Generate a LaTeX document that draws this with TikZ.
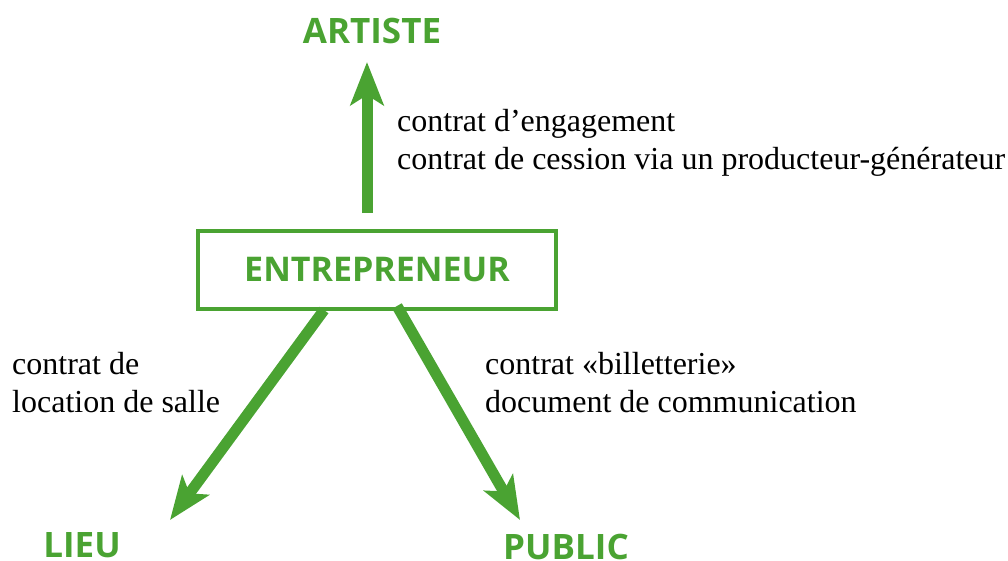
\documentclass[tikz,border=0pt]{standalone}
\usepackage{fontspec}
\setmainfont{Liberation Serif}
\newfontfamily\labelfont{Open Sans}
\usetikzlibrary{arrows.meta, positioning, calc}
\definecolor{leafgreen}{RGB}{74,163,50}

\begin{document}
\begin{tikzpicture}[x=1pt, y=-1pt, >={Stealth[length=43pt, width=33pt, inset=10pt]},
  party/.style={text=leafgreen, inner sep=0pt, font=\labelfont\bfseries\fontsize{35}{40}\selectfont},
  deal/.style={inner sep=0pt, align=left, anchor=base west, font=\fontsize{32}{38}\selectfont},
  flow/.style={->, draw=leafgreen, line width=11pt}]
\useasboundingbox (0,0) rectangle (1008,560);

\node [party, draw=leafgreen, line width=4pt, minimum width=358pt, minimum height=78pt, font=\labelfont\bfseries\fontsize{34}{40}\selectfont] (box) at (377,270) {ENTREPRENEUR};
\node [party, anchor=base] (artiste) at (372,43) {ARTISTE};
\node [party, anchor=base] (lieu) at (82,557) {LIEU};
\node [party, anchor=base] (public) at (566,559) {PUBLIC};

\coordinate (artistetip) at (367,62);
\coordinate (lieutip) at (170,520);
\coordinate (publictip) at (520,520);

\draw[flow] ([xshift=-10pt, yshift=16pt]box.north) -- (artistetip);
\draw[flow] ([xshift=-53pt, yshift=1pt]box.south) -- (lieutip);
\draw[flow] ([xshift=20pt, yshift=5pt]box.south) -- (publictip);

\node [deal] (engage) at (397,169) {contrat d’engagement\\contrat de cession via un producteur-générateur};
\node [deal] (salle) at (12,412) {contrat de\\location de salle};
\node [deal] (billet) at (485,412) {contrat «billetterie»\\document de communication};
\end{tikzpicture}
\end{document}
